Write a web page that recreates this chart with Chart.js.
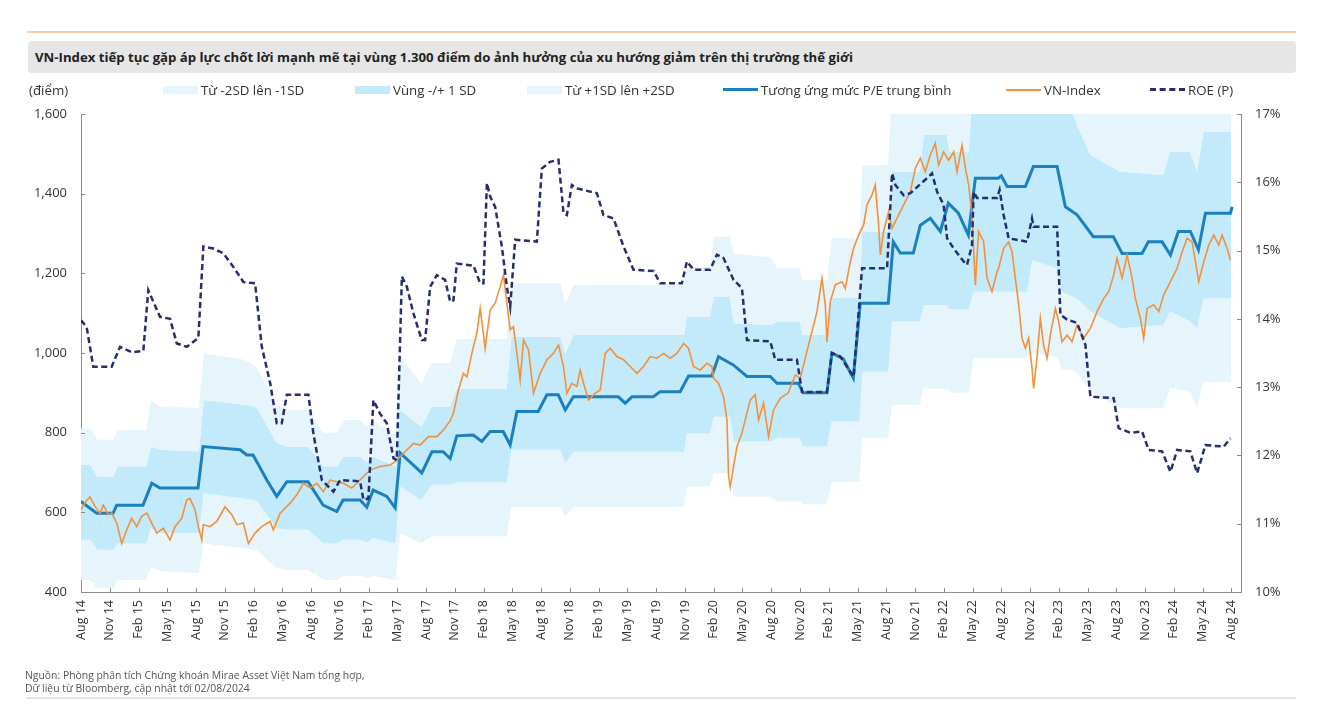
<!DOCTYPE html>
<html>
<head>
<meta charset="utf-8">
<script src="https://cdn.jsdelivr.net/npm/chart.js@4.4.1/dist/chart.umd.min.js"></script>
<style>
  body { margin: 0; background: #fff; font-family: "Open Sans", "Noto Sans", sans-serif; color: #333; }
  #page { position: relative; width: 1328px; height: 728px; overflow: hidden; }
  #wrap { position: absolute; left: 0; top: 0; width: 1328px; height: 728px; }
  .topline { position: absolute; left: 27px; top: 31px; width: 1269px; height: 2px; background: #f8caa8; }
  .title { position: absolute; left: 28px; top: 41px; width: 1268px; height: 32px; background: #e6e6e6;
           border-radius: 4px; font-weight: 700; font-size: 13.2px; line-height: 32px; padding-left: 7px;
           box-sizing: border-box; color: #222; }
  .legend { position: absolute; top: 81px; height: 18px; font-size: 13.3px; line-height: 18px; color: #333; z-index: 2; }
  .sw { position: absolute; top: 5px; width: 35px; height: 8px; }
  .ln { position: absolute; top: 8px; width: 35px; height: 0; }
  .foot { position: absolute; left: 25px; font-size: 10.4px; color: #555; }
  .botline { position: absolute; left: 26px; top: 697px; width: 1270px; height: 2px; background: #e4e4e4; }
</style>
</head>
<body>
<div id="page">
  <div id="wrap"><canvas id="chart"></canvas></div>
  <div class="topline"></div>
  <div class="title">VN-Index tiếp tục gặp áp lực chốt lời mạnh mẽ tại vùng 1.300 điểm do ảnh hưởng của xu hướng giảm trên thị trường thế giới</div>

  <div class="legend" style="left:29px">(điểm)</div>
  <div class="legend" style="left:163px"><span class="sw" style="left:0;background:#e6f4fb"></span><span style="margin-left:38px">Từ -2SD lên -1SD</span></div>
  <div class="legend" style="left:355px"><span class="sw" style="left:0;background:#c2eafa"></span><span style="margin-left:38px">Vùng -/+ 1 SD</span></div>
  <div class="legend" style="left:527px"><span class="sw" style="left:0;background:#e6f4fb"></span><span style="margin-left:38px">Từ +1SD lên +2SD</span></div>
  <div class="legend" style="left:723px"><span class="ln" style="left:0;border-top:3px solid #1b80bf;top:7px"></span><span style="margin-left:38px">Tương ứng mức P/E trung bình</span></div>
  <div class="legend" style="left:1006px"><span class="ln" style="left:0;border-top:2px solid #f3913a"></span><span style="margin-left:38px">VN-Index</span></div>
  <div class="legend" style="left:1150px"><span class="ln" style="left:0;border-top:3px dashed #262e6e;top:7px"></span><span style="margin-left:38px">ROE (P)</span></div>

  <div class="foot" style="top:668px">Nguồn: Phòng phân tích Chứng khoán Mirae Asset Việt Nam tổng hợp,</div>
  <div class="foot" style="top:681px">Dữ liệu từ Bloomberg, cập nhật tới 02/08/2024</div>
  <div class="botline"></div>
</div>

<script>
// tick labels, one every 3 months starting Aug 2014
const xLabels = ["Aug 14", "Nov 14", "Feb 15", "May 15", "Aug 15", "Nov 15", "Feb 16", "May 16",
  "Aug 16", "Nov 16", "Feb 17", "May 17", "Aug 17", "Nov 17", "Feb 18", "May 18", "Aug 18", "Nov 18",
  "Feb 19", "May 19", "Aug 19", "Nov 19", "Feb 20", "May 20", "Aug 20", "Nov 20", "Feb 21", "May 21",
  "Aug 21", "Nov 21", "Feb 22", "May 22", "Aug 22", "Nov 22", "Feb 23", "May 23", "Aug 23", "Nov 23",
  "Feb 24", "May 24", "Aug 24"];

// [months since Aug 2014, points]
const vnIndex = [[0,606],[0.42,625],[0.94,639],[1.46,615],[1.98,598],[2.33,618],[2.85,594],[3.2,598],[3.73,573],[4.25,522],[4.77,556],[5.29,585],[5.81,564],[6.33,590],[6.86,598],[7.38,573],[7.9,548],[8.59,560],[9.29,531],[9.81,564],[10.51,585],[11.03,631],[11.37,635],[11.9,606],[12.24,564],[12.59,531],[12.76,569],[13.46,564],[14.16,577],[15.03,614],[15.73,594],[16.25,569],[16.94,573],[17.46,522],[18.16,548],[18.86,564],[19.72,577],[20.07,556],[20.77,598],[21.81,623],[22.51,644],[23.2,673],[23.9,661],[24.6,673],[25.28,652],[25.98,681],[26.68,677],[27.37,673],[28.25,661],[28.77,673],[29.46,690],[30.16,706],[31.2,715],[32.25,719],[32.77,727],[33.63,748],[34.68,773],[35.38,769],[36.24,790],[37.12,790],[37.81,807],[38.51,830],[38.85,849],[39.37,907],[39.89,949],[40.25,940],[40.77,999],[41.29,1050],[41.64,1112],[42.16,1012],[42.68,1108],[43.2,1125],[43.72,1166],[44.07,1196],[44.42,1125],[44.77,1058],[45.11,1066],[45.47,999],[45.81,932],[46.16,1033],[46.68,1008],[47.2,899],[47.9,949],[48.6,983],[49.28,999],[49.81,1020],[50.33,966],[50.68,899],[51.2,924],[51.73,916],[52.07,957],[52.42,924],[52.94,882],[53.64,899],[54.16,907],[54.68,999],[55.2,1012],[55.9,991],[56.59,983],[57.29,966],[57.99,949],[58.68,966],[59.38,991],[60.08,987],[60.76,999],[61.46,987],[62.16,999],[62.85,1024],[63.37,1012],[63.89,966],[64.59,957],[65.29,974],[65.81,966],[65.98,937],[66.5,924],[67.02,890],[67.38,832],[67.55,690],[67.72,664],[68.07,715],[68.42,765],[68.94,799],[69.29,832],[69.81,882],[70.33,895],[70.68,832],[71.2,874],[71.72,790],[72.24,857],[72.94,886],[73.78,900],[74.51,945],[75.03,937],[75.55,987],[76.25,1054],[76.77,1104],[77.29,1188],[77.64,1121],[77.81,1028],[78.16,1129],[78.68,1171],[79.38,1179],[79.72,1162],[80.25,1229],[80.59,1263],[81.11,1296],[81.63,1321],[81.99,1372],[82.51,1397],[82.85,1422],[83.2,1321],[83.38,1246],[83.72,1305],[84.24,1355],[84.6,1313],[84.95,1330],[85.46,1355],[85.98,1380],[86.51,1405],[87.03,1464],[87.55,1489],[88.07,1455],[88.59,1497],[89.11,1526],[89.46,1472],[89.98,1505],[90.5,1484],[91.03,1505],[91.38,1455],[91.9,1522],[92.25,1464],[92.59,1422],[92.94,1346],[93.29,1171],[93.63,1305],[94.15,1280],[94.51,1188],[95.03,1154],[95.55,1204],[95.72,1213],[96.24,1263],[96.76,1279],[97.12,1254],[97.46,1188],[97.81,1121],[98.16,1037],[98.51,1012],[98.85,1037],[99.2,962],[99.37,911],[99.72,987],[100.07,1087],[100.41,1020],[100.77,987],[101.11,1045],[101.64,1112],[101.98,1079],[102.33,1028],[102.86,1045],[103.38,1028],[103.9,1070],[104.59,1037],[105.29,1062],[105.99,1104],[106.68,1137],[107.2,1154],[107.72,1196],[108.07,1238],[108.6,1188],[109.12,1246],[109.64,1188],[109.98,1137],[110.51,1087],[110.85,1037],[111.21,1112],[111.9,1121],[112.42,1104],[112.94,1146],[113.64,1179],[114.34,1213],[114.86,1254],[115.38,1288],[115.9,1279],[116.25,1229],[116.59,1179],[117.12,1229],[117.64,1271],[118.16,1296],[118.68,1271],[119.03,1296],[119.55,1263],[119.9,1233]];

// index level implied by the average P/E
const peMean = [[0,627],[1.64,598],[3.34,598],[3.73,618],[6.47,618],[7.38,673],[8.24,661],[12.21,661],[12.73,765],[16.6,757],[17.29,744],[17.95,744],[19.38,681],[20.42,640],[21.47,677],[23.69,677],[25.25,618],[26.68,602],[27.34,631],[29.11,631],[29.81,613],[30.47,656],[31.9,640],[32.77,611],[33.29,749],[35.55,699],[36.6,752],[37.77,752],[38.51,735],[39.2,792],[40.91,794],[41.81,778],[42.68,803],[44.04,803],[44.77,769],[45.47,853],[47.69,853],[48.6,895],[49.78,895],[50.51,857],[51.37,890],[56.04,890],[56.77,874],[57.47,890],[59.69,890],[60.42,903],[62.5,903],[63.37,942],[65.81,942],[66.5,991],[68.04,970],[69.47,941],[71.9,941],[72.6,924],[74.82,924],[75.34,900],[77.81,900],[78.33,1000],[79.51,985],[80.56,937],[81.29,1125],[84.21,1125],[84.73,1279],[85.46,1251],[86.82,1251],[87.55,1321],[88.59,1338],[89.64,1305],[90.47,1376],[91.52,1351],[92.56,1296],[93.29,1439],[95.69,1439],[96.0,1445],[96.6,1418],[98.51,1418],[99.34,1468],[101.82,1468],[102.68,1367],[103.9,1347],[105.6,1292],[107.69,1292],[108.6,1250],[110.68,1250],[111.34,1279],[112.77,1279],[113.64,1246],[114.47,1305],[115.72,1305],[116.56,1259],[117.29,1351],[119.9,1351],[120.08,1367]];

// ROE, % (right axis)
const roe = [[0,13.98],[0.59,13.88],[1.28,13.3],[3.2,13.3],[4.07,13.59],[5.29,13.51],[6.5,13.53],[7.02,14.42],[8.24,14.03],[9.29,14.0],[9.99,13.64],[11.03,13.59],[12.24,13.72],[12.76,15.06],[13.81,15.03],[14.85,14.96],[15.89,14.76],[16.94,14.54],[18.16,14.52],[18.86,13.59],[19.73,13.06],[20.42,12.47],[20.94,12.47],[21.47,12.89],[23.72,12.89],[24.24,12.32],[25.12,11.64],[26.33,11.47],[27.03,11.64],[29.11,11.62],[29.46,11.35],[29.98,11.37],[30.5,12.81],[31.2,12.61],[31.9,12.47],[32.59,11.96],[32.94,11.93],[33.47,14.62],[33.99,14.47],[34.68,14.08],[35.55,13.69],[35.9,13.69],[36.42,14.47],[37.12,14.64],[37.98,14.57],[38.51,14.25],[38.85,14.27],[39.2,14.81],[40.94,14.78],[41.64,14.52],[41.98,14.52],[42.34,15.99],[42.68,15.79],[43.2,15.64],[43.9,15.06],[44.42,14.47],[44.77,14.18],[45.29,15.16],[47.55,15.13],[48.07,16.2],[48.94,16.3],[49.81,16.33],[50.33,15.55],[50.68,15.52],[51.2,15.96],[51.73,15.91],[53.81,15.84],[54.5,15.52],[55.55,15.47],[56.59,15.06],[57.63,14.72],[59.72,14.7],[60.42,14.52],[62.68,14.52],[63.2,14.84],[63.89,14.72],[65.63,14.72],[66.33,14.94],[67.02,14.89],[68.07,14.57],[68.94,14.45],[69.47,13.69],[71.9,13.67],[72.42,13.4],[74.68,13.4],[75.21,12.93],[77.81,12.93],[78.33,13.5],[79.2,13.45],[80.59,13.15],[81.47,14.74],[84.08,14.74],[84.6,16.13],[84.95,15.96],[85.81,15.81],[86.51,15.84],[87.21,15.93],[88.25,16.06],[88.77,16.13],[89.3,15.86],[89.98,15.67],[90.34,15.18],[91.03,15.03],[92.07,14.84],[92.42,14.79],[92.94,15.08],[93.11,15.86],[93.47,15.77],[95.55,15.77],[95.82,15.89],[96.24,15.52],[96.76,15.18],[98.68,15.13],[99.2,15.47],[99.37,15.35],[101.82,15.35],[102.16,14.06],[102.86,13.99],[103.9,13.94],[104.77,13.62],[105.29,12.86],[107.72,12.84],[108.24,12.4],[109.46,12.33],[110.68,12.35],[111.37,12.08],[112.77,12.06],[113.64,11.76],[114.34,12.08],[115.72,12.06],[116.42,11.74],[117.29,12.15],[119.2,12.13],[119.9,12.25]];

// P/E bands, index points at the same months
const bandX = [0,1.0,1.7,3.4,3.8,6.8,7.3,8.3,12.3,12.8,17.0,18.3,20.4,21.5,23.7,25.3,26.7,27.4,29.1,29.8,30.5,32.8,33.3,35.5,36.6,38.5,39.2,44.4,44.9,50.0,50.5,51.4,62.9,63.2,65.6,66.0,67.7,68.1,72.0,72.6,75.0,75.3,77.8,78.3,81.2,81.5,84.2,84.6,87.5,87.9,90.3,90.6,92.6,93.1,98.7,99.2,101.8,102.3,103.9,105.3,108.4,112.9,113.6,115.7,116.4,117.1,120.0];
const minus2SD = [430,430,410,410,430,430,464,452,448,522,510,505,460,455,455,430,430,440,440,435,440,430,547,522,540,540,540,540,614,614,589,614,614,665,665,698,698,639,639,627,627,620,620,677,677,787,787,870,870,910,910,900,900,987,987,1000,990,960,953,903,861,861,912,903,861,928,928];
const minus1SD = [531,531,506,506,522,522,560,548,548,648,635,630,560,556,556,522,522,531,531,525,535,522,665,631,670,670,675,675,757,757,723,752,752,798,798,840,840,778,778,787,787,765,765,828,828,953,953,1079,1079,1120,1120,1110,1110,1154,1154,1233,1213,1154,1137,1104,1062,1070,1104,1079,1062,1137,1137];
const plus1SD = [719,719,690,690,715,715,765,757,753,882,870,865,775,765,765,715,715,740,740,725,740,715,857,815,865,865,910,910,1041,1041,999,1045,1045,1091,1091,1141,1141,1075,1070,1079,1079,1045,1045,1138,1138,1305,1305,1455,1455,1547,1547,1505,1505,1700,1700,1700,1700,1680,1572,1497,1455,1447,1505,1505,1455,1556,1556];
const plus2SD = [811,811,782,782,807,807,882,865,862,999,983,966,870,857,857,800,800,832,832,815,830,794,991,924,975,975,1035,1035,1175,1175,1125,1171,1171,1215,1215,1292,1292,1250,1240,1213,1213,1183,1183,1289,1289,1472,1472,1700,1700,1750,1750,1750,1750,1800,1800,1800,1800,1800,1800,1800,1800,1800,1800,1800,1800,1800,1800];

const pairs = (arr) => arr.map(([x, y]) => ({ x, y }));
const band = (vals) => vals.map((y, i) => ({ x: bandX[i], y }));

const LIGHT = "#e6f4fb";
const DARK = "#c2eafa";
const AXIS = "#8c8c8c";

// small tick marks pointing into the plot
const innerTicks = {
  id: "innerTicks",
  afterDraw(chart) {
    const { ctx, chartArea: a, scales } = chart;
    ctx.save();
    ctx.strokeStyle = AXIS;
    ctx.lineWidth = 1;
    ctx.beginPath();
    scales.y.ticks.forEach((t) => {
      const y = Math.round(scales.y.getPixelForValue(t.value)) + 0.5;
      ctx.moveTo(a.left, y);
      ctx.lineTo(a.left + 4, y);
    });
    scales.y1.ticks.forEach((t) => {
      const y = Math.round(scales.y1.getPixelForValue(t.value)) + 0.5;
      ctx.moveTo(a.right, y);
      ctx.lineTo(a.right - 4, y);
    });
    scales.x.ticks.forEach((t) => {
      const x = Math.round(scales.x.getPixelForValue(t.value)) + 0.5;
      ctx.moveTo(x, a.bottom);
      ctx.lineTo(x, a.bottom - 4);
    });
    ctx.stroke();
    ctx.restore();
  },
};

const tickFont = { family: "'Open Sans', 'Noto Sans', sans-serif", size: 13 };

new Chart(document.getElementById("chart"), {
  type: "line",
  plugins: [innerTicks],
  data: {
    datasets: [
      { label: "ROE (P)", data: pairs(roe), yAxisID: "y1", borderColor: "#262e6e", borderWidth: 2.5,
        borderDash: [6, 3.5], pointRadius: 0, fill: false, order: 0 },
      { label: "VN-Index", data: pairs(vnIndex), yAxisID: "y", borderColor: "#f3913a", borderWidth: 1.6,
        pointRadius: 0, fill: false, order: 1 },
      { label: "Tương ứng mức P/E trung bình", data: pairs(peMean), yAxisID: "y", borderColor: "#1b80bf",
        borderWidth: 3, pointRadius: 0, fill: false, order: 2 },
      { label: "+2SD", data: band(plus2SD), yAxisID: "y", borderWidth: 0, pointRadius: 0,
        backgroundColor: LIGHT, fill: "+1", order: 3 },
      { label: "+1SD", data: band(plus1SD), yAxisID: "y", borderWidth: 0, pointRadius: 0,
        backgroundColor: DARK, fill: "+1", order: 4 },
      { label: "-1SD", data: band(minus1SD), yAxisID: "y", borderWidth: 0, pointRadius: 0,
        backgroundColor: LIGHT, fill: "+1", order: 5 },
      { label: "-2SD", data: band(minus2SD), yAxisID: "y", borderWidth: 0, pointRadius: 0,
        fill: false, order: 6 },
    ],
  },
  options: {
    responsive: true,
    maintainAspectRatio: false,
    animation: false,
    layout: { padding: { top: 114, left: 0, right: 0, bottom: 0 } },
    plugins: { legend: { display: false }, tooltip: { enabled: false } },
    elements: { line: { tension: 0 } },
    scales: {
      x: {
        type: "linear",
        min: 0,
        max: 121,
        afterBuildTicks: (scale) => {
          scale.ticks = xLabels.map((_, i) => ({ value: i * 3 }));
        },
        afterFit: (scale) => { scale.height = 136; },
        grid: { drawOnChartArea: false, drawTicks: false },
        border: { color: AXIS, width: 1 },
        ticks: {
          autoSkip: false,
          maxRotation: 90,
          minRotation: 90,
          padding: 8,
          color: "#333",
          font: { family: tickFont.family, size: 12.5 },
          callback: (v) => xLabels[Math.round(v / 3)],
        },
      },
      y: {
        position: "left",
        min: 400,
        max: 1600,
        afterFit: (scale) => { scale.width = 81; },
        grid: { drawOnChartArea: false, drawTicks: false },
        border: { color: AXIS, width: 1 },
        ticks: { stepSize: 200, padding: 14, color: "#333", font: tickFont,
          callback: (v) => v.toLocaleString("en-US") },
      },
      y1: {
        position: "right",
        min: 10,
        max: 17,
        afterFit: (scale) => { scale.width = 87; },
        grid: { drawOnChartArea: false, drawTicks: false },
        border: { color: AXIS, width: 1 },
        ticks: { stepSize: 1, padding: 14, color: "#333", font: tickFont,
          callback: (v) => v + "%" },
      },
    },
  },
});
</script>
</body>
</html>
